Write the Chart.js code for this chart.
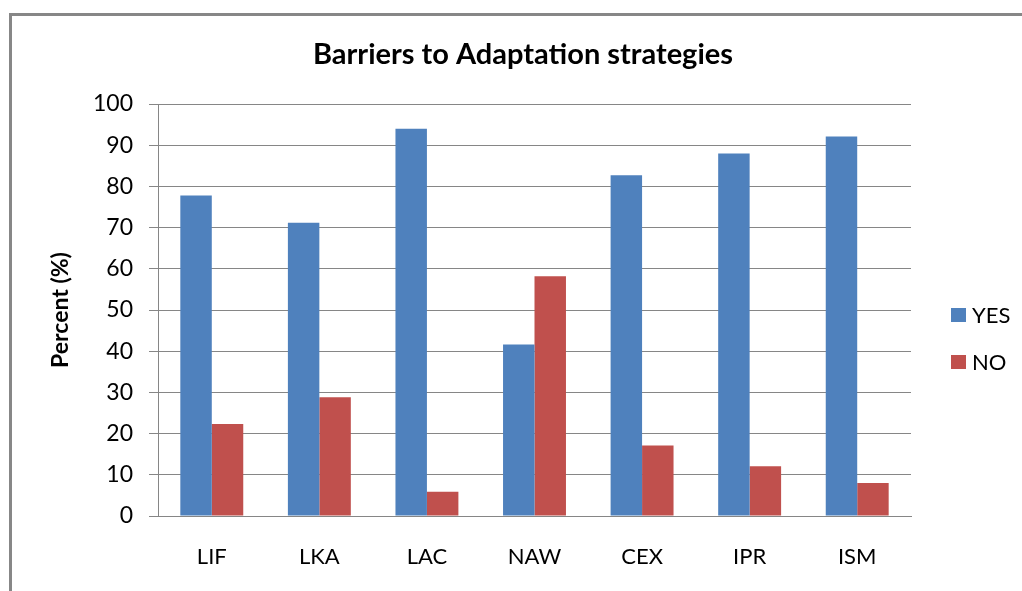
<!DOCTYPE html>
<html>
<head>
<meta charset="utf-8">
<script src="https://cdn.jsdelivr.net/npm/chart.js@4/dist/chart.umd.min.js"></script>
<style>
  html, body { margin: 0; padding: 0; background: #fff; overflow: hidden; }
  #frame {
    position: absolute; left: 9px; top: 13px; width: 1030px; height: 600px;
    border-top: 3px solid #878787; border-left: 3px solid #878787;
  }
  #wrap { position: absolute; left: 0; top: 0; width: 1022px; height: 591px; }
</style>
</head>
<body>
<div id="frame"></div>
<div id="wrap"><canvas id="chart"></canvas></div>
<script>
// Barriers to Adaptation strategies

const categories = ['LIF', 'LKA', 'LAC', 'NAW', 'CEX', 'IPR', 'ISM'];
const yesValues = [77.8, 71.2, 94.0, 41.6, 82.7, 88.0, 92.1];
const noValues = [22.3, 28.8, 5.9, 58.2, 17.1, 12.1, 8.0];
const yTicks = [0, 10, 20, 30, 40, 50, 60, 70, 80, 90, 100];
const chartTitle = 'Barriers to Adaptation strategies';

const FONT = "Lato, 'Open Sans', sans-serif";
const GRID = '#868686';

// title centred over the whole frame, legend at the right (spreadsheet style)
const titleAndLegend = {
  id: 'titleAndLegend',
  afterDraw(chart) {
    const ctx = chart.ctx;
    ctx.save();
    ctx.fillStyle = '#000';
    ctx.font = 'bold 29px ' + FONT;
    ctx.textAlign = 'center';
    ctx.textBaseline = 'alphabetic';
    ctx.fillText(chartTitle, 523, 64);

    const rows = [315, 362];
    ctx.textAlign = 'left';
    ctx.textBaseline = 'middle';
    ctx.font = '22px ' + FONT;
    chart.data.datasets.forEach((ds, i) => {
      const y = rows[i];
      ctx.fillStyle = ds.backgroundColor;
      ctx.fillRect(951, y - 7, 15, 14);
      ctx.fillStyle = '#000';
      ctx.fillText(ds.label, 972, y + 1);
    });
    ctx.restore();
  },
};

new Chart(document.getElementById('chart'), {
  type: 'bar',
  data: {
    labels: categories,
    datasets: [
      { label: 'YES', data: yesValues, backgroundColor: '#4F81BD', borderWidth: 0 },
      { label: 'NO', data: noValues, backgroundColor: '#C0504D', borderWidth: 0 },
    ],
  },
  options: {
    responsive: true,
    maintainAspectRatio: false,
    animation: false,
    datasets: { bar: { barPercentage: 1, categoryPercentage: 0.585 } },
    layout: { padding: { left: 10, right: 111, top: 104, bottom: 0 } },
    plugins: {
      legend: { display: false },
      tooltip: { enabled: false },
      title: { display: false },
    },
    scales: {
      x: {
        grid: { display: false, drawTicks: false },
        border: { display: true, color: GRID, width: 1 },
        ticks: { color: '#000', font: { family: FONT, size: 22 }, padding: 28 },
        afterFit: s => { s.height = 75; },
      },
      y: {
        min: 0,
        max: 100,
        afterBuildTicks: s => { s.ticks = yTicks.map(v => ({ value: v })); },
        grid: { color: GRID, lineWidth: 1, tickLength: 9 },
        border: { display: true, color: GRID, width: 1 },
        ticks: { color: '#000', font: { family: FONT, size: 23 }, padding: 16 },
        title: {
          display: true,
          text: 'Percent (%)',
          color: '#000',
          font: { family: FONT, size: 23, weight: 'bold' },
          padding: { top: 37, bottom: 0 },
        },
        afterFit: s => { s.width = 148; },
      },
    },
  },
  plugins: [titleAndLegend],
});
</script>
</body>
</html>
